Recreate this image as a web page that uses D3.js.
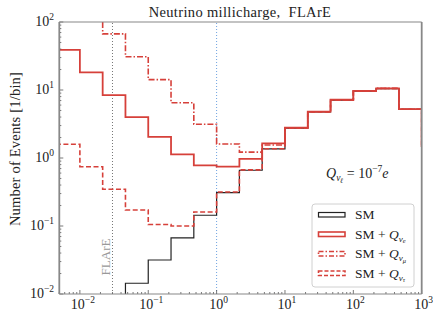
<!DOCTYPE html>
<html>
<head>
<meta charset="utf-8">
<script src="https://cdn.jsdelivr.net/npm/d3@7"></script>
<style>
  body { margin: 0; background: #fff; }
  text { font-family: "Liberation Serif", "DejaVu Serif", serif; }
</style>
</head>
<body>
<div id="chart"></div>
<script>
// bin edges: 3 per decade, 10^(-7/3) .. 10^(10/3)
const edgeExps = d3.range(-7, 11);
const edges = edgeExps.map(k => Math.pow(10, k / 3));

// events per bin (0 = empty bin)
const smEvents   = [0, 0, 0, 0.0144, 0.0316, 0.0667, 0.144, 0.31, 0.66, 1.36, 2.74, 4.75, 7.1, 9.6, 10.5, 5.2, 1.5];
const nuEEvents  = [38.8, 18.2, 8.4, 4.0, 2.04, 1.13, 0.78, 0.745, 0.97, 1.64, 2.79, 4.8, 7.2, 9.7, 10.6, 5.25, 1.5];
const nuMuEvents = [300, 160, 67, 30.9, 14.2, 6.5, 3.13, 1.61, 1.22, 1.55, 2.78, 4.78, 7.15, 9.65, 10.55, 5.22, 1.5];
const nuTauEvents = [1.59, 0.745, 0.347, 0.172, 0.105, 0.1, 0.161, 0.316, 0.67, 1.37, 2.75, 4.76, 7.1, 9.6, 10.5, 5.2, 1.5];

const xTicks = [-2, -1, 0, 1, 2, 3];
const yTicks = [-2, -1, 0, 1, 2];
const flareX = 0.03;
const unitX = 1;

const width = 433, height = 311;
const margin = { top: 22, right: 11.3, bottom: 17, left: 59.3 };
const red = "#d6403a";

const svg = d3.select("#chart").append("svg")
  .attr("width", width)
  .attr("height", height);

const x = d3.scaleLog().domain([0.005, 1000]).range([margin.left, width - margin.right]);
const y = d3.scaleLog().domain([0.01, 100]).range([height - margin.bottom, margin.top]);

svg.append("clipPath").attr("id", "plot")
  .append("rect")
  .attr("x", x.range()[0]).attr("y", y.range()[1])
  .attr("width", x.range()[1] - x.range()[0])
  .attr("height", y.range()[0] - y.range()[1]);

const plot = svg.append("g").attr("clip-path", "url(#plot)");

// vertical reference lines
plot.append("line")
  .attr("x1", x(flareX)).attr("x2", x(flareX))
  .attr("y1", y.range()[0]).attr("y2", y.range()[1])
  .attr("stroke", "#777").attr("stroke-width", 1).attr("stroke-dasharray", "1,2");
plot.append("line")
  .attr("x1", x(unitX)).attr("x2", x(unitX))
  .attr("y1", y.range()[0]).attr("y2", y.range()[1])
  .attr("stroke", "#6fa3e0").attr("stroke-width", 1).attr("stroke-dasharray", "1,2");

// step histogram path
function stepPts(vals) {
  const floor = 1e-5;
  const pts = [[edges[0], floor]];
  vals.forEach((v, i) => {
    const vv = v > 0 ? v : floor;
    pts.push([edges[i], vv]);
    pts.push([edges[i + 1], vv]);
  });
  pts.push([edges[vals.length], floor]);
  return pts;
}
const line = d3.line().x(d => x(d[0])).y(d => y(d[1]));

const series = [
  { vals: smEvents, color: "#222", w: 1.2, dash: null },
  { vals: nuTauEvents, color: red, w: 1.6, dash: "5,2.5" },
  { vals: nuMuEvents, color: red, w: 1.6, dash: "6,2,1.5,2" },
  { vals: nuEEvents, color: red, w: 1.8, dash: null }
];

series.forEach(s => {
  plot.append("path")
    .attr("d", line(stepPts(s.vals)))
    .attr("fill", "none")
    .attr("stroke", s.color)
    .attr("stroke-width", s.w)
    .attr("stroke-dasharray", s.dash)
    .attr("stroke-linejoin", "miter");
});

// ticks (inside)
const tickG = svg.append("g").attr("stroke", "#555");
for (let e = -3; e <= 3; e++) {
  for (let m = 1; m < 10; m++) {
    const v = m * Math.pow(10, e);
    if (v < x.domain()[0] || v > x.domain()[1]) continue;
    const len = m === 1 ? 4 : 2;
    tickG.append("line")
      .attr("x1", x(v)).attr("x2", x(v))
      .attr("y1", y.range()[0]).attr("y2", y.range()[0] - len)
      .attr("stroke-width", 0.8);
  }
}
for (let e = -2; e <= 2; e++) {
  for (let m = 1; m < 10; m++) {
    const v = m * Math.pow(10, e);
    if (v > y.domain()[1]) continue;
    const len = m === 1 ? 4 : 2;
    tickG.append("line")
      .attr("x1", x.range()[0]).attr("x2", x.range()[0] + len)
      .attr("y1", y(v)).attr("y2", y(v))
      .attr("stroke-width", 0.8);
  }
}

// spines
const spines = svg.append("g").attr("stroke", "#888").attr("fill", "none");
spines.append("line").attr("x1", x.range()[0]).attr("x2", x.range()[1])
  .attr("y1", y.range()[1]).attr("y2", y.range()[1]).attr("stroke-width", 1.2);
spines.append("line").attr("x1", x.range()[0]).attr("x2", x.range()[1])
  .attr("y1", y.range()[0]).attr("y2", y.range()[0]).attr("stroke-width", 1.2);
spines.append("line").attr("x1", x.range()[0]).attr("x2", x.range()[0])
  .attr("y1", y.range()[1]).attr("y2", y.range()[0]).attr("stroke-width", 1.8);
spines.append("line").attr("x1", x.range()[1]).attr("x2", x.range()[1])
  .attr("y1", y.range()[1]).attr("y2", y.range()[0]).attr("stroke-width", 1.8);

// tick labels
function powLabel(sel, e) {
  sel.append("tspan").text("10");
  sel.append("tspan").attr("dy", -6).attr("font-size", 9.5)
    .text(e < 0 ? "\u2212" + Math.abs(e) : String(e));
}
xTicks.forEach(e => {
  const t = svg.append("text")
    .attr("x", x(Math.pow(10, e)) + (e < 0 ? 3 : 2))
    .attr("y", 309)
    .attr("text-anchor", "middle")
    .attr("font-size", 14)
    .attr("fill", "#222");
  powLabel(t, e);
});
yTicks.forEach(e => {
  const t = svg.append("text")
    .attr("x", 54)
    .attr("y", y(Math.pow(10, e)) + 4)
    .attr("text-anchor", "end")
    .attr("font-size", 14)
    .attr("fill", "#222");
  powLabel(t, e);
});

// title and axis label
svg.append("text")
  .attr("x", 240).attr("y", 17)
  .attr("text-anchor", "middle")
  .attr("font-size", 14.5)
  .attr("letter-spacing", 0.35)
  .attr("fill", "#222")
  .text("Neutrino millicharge,\u00a0\u00a0FLArE");

svg.append("text")
  .attr("transform", "translate(20,149) rotate(-90)")
  .attr("text-anchor", "middle")
  .attr("font-size", 14.5)
  .attr("letter-spacing", 0.2)
  .attr("fill", "#222")
  .text("Number of Events [1/bin]");

svg.append("text")
  .attr("transform", "translate(110,257) rotate(-90)")
  .attr("text-anchor", "middle")
  .attr("font-size", 13)
  .attr("fill", "#999")
  .text("FLArE");

// Q_nu_l = 10^-7 e annotation
const ann = svg.append("text")
  .attr("x", 326).attr("y", 178)
  .attr("font-size", 14)
  .attr("fill", "#222");
ann.append("tspan").attr("font-style", "italic").text("Q");
ann.append("tspan").attr("font-style", "italic").attr("font-size", 9.5).attr("dy", 3).text("\u03bd");
ann.append("tspan").attr("font-style", "italic").attr("font-size", 7).attr("dy", 1.5).text("\u2113");
ann.append("tspan").attr("dy", -4.5).text(" = 10");
ann.append("tspan").attr("font-size", 9.5).attr("dy", -6).text("\u22127");
ann.append("tspan").attr("font-style", "italic").attr("dy", 6).text("e");

// legend
const legendLabels = ["SM", "e", "\u03bc", "\u03c4"];
const legendStyles = [
  { color: "#222", w: 1.2, dash: null },
  { color: red, w: 1.6, dash: null },
  { color: red, w: 1.6, dash: "5,2,1.5,2" },
  { color: red, w: 1.6, dash: "4,2" }
];

const legend = svg.append("g").attr("transform", "translate(312,204)");
legend.append("rect")
  .attr("width", 102).attr("height", 83)
  .attr("rx", 3)
  .attr("fill", "#fff").attr("fill-opacity", 0.85)
  .attr("stroke", "#d0d0d0").attr("stroke-width", 1);

const item = legend.selectAll(".legend-item")
  .data(legendLabels)
  .enter()
  .append("g")
  .attr("class", "legend-item")
  .attr("transform", (d, i) => "translate(0," + (i * 19.5) + ")");

item.append("rect")
  .attr("x", 6.5).attr("y", 8.5)
  .attr("width", 26.5).attr("height", 4.5)
  .attr("fill", "none")
  .attr("stroke", (d, i) => legendStyles[i].color)
  .attr("stroke-width", (d, i) => legendStyles[i].w)
  .attr("stroke-dasharray", (d, i) => legendStyles[i].dash);

item.each(function (d, i) {
  const t = d3.select(this).append("text")
    .attr("x", 43).attr("y", 15)
    .attr("font-size", 13.5)
    .attr("fill", "#222");
  if (i === 0) {
    t.text("SM");
  } else {
    t.append("tspan").text("SM + ");
    t.append("tspan").attr("font-style", "italic").text("Q");
    t.append("tspan").attr("font-style", "italic").attr("font-size", 9).attr("dy", 3).text("\u03bd");
    t.append("tspan").attr("font-style", "italic").attr("font-size", 6.5).attr("dy", 1.5).text(d);
  }
});
</script>
</body>
</html>
